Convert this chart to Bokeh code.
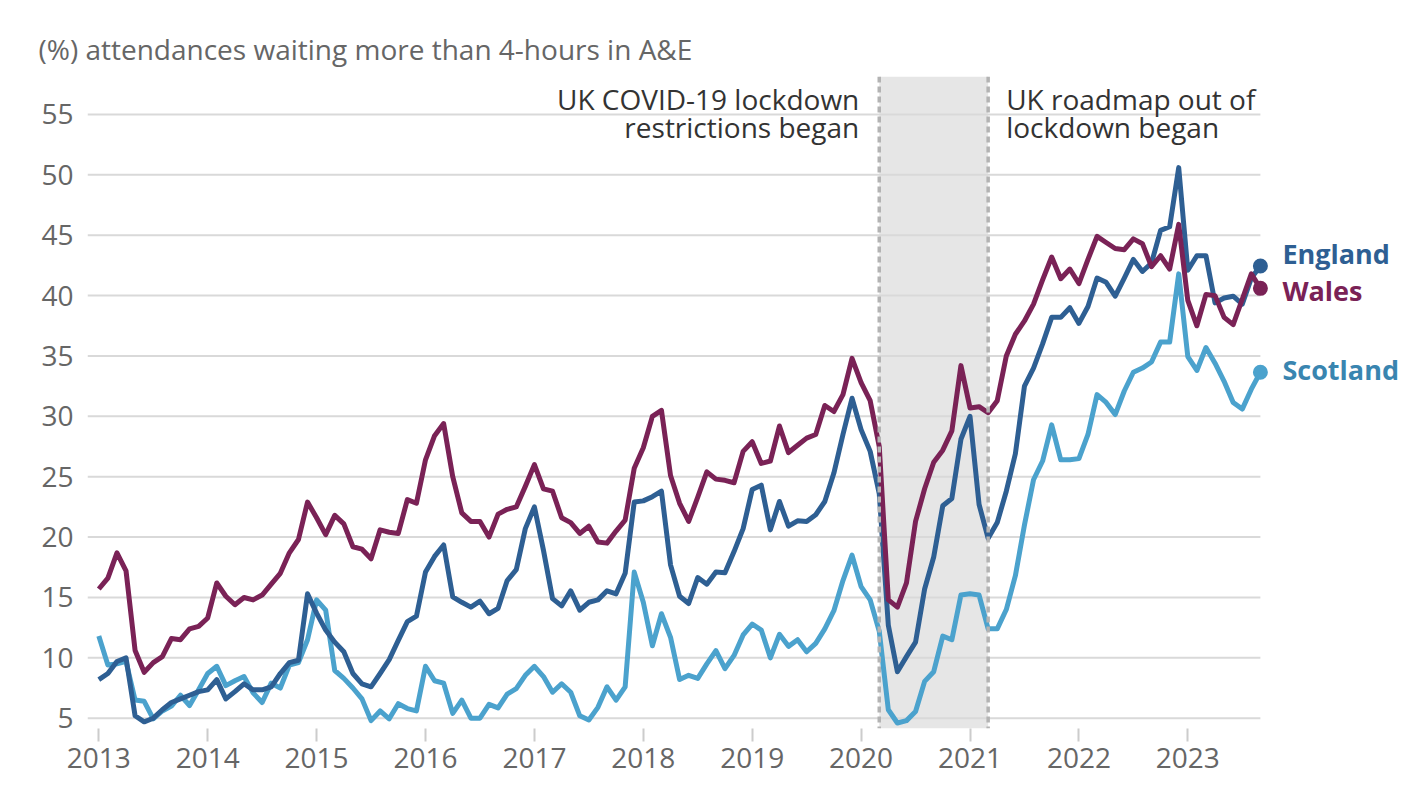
import pandas as pd
from bokeh.plotting import figure
from bokeh.models import (FixedTicker, Label, BoxAnnotation, Span, ColumnDataSource, Title)
from bokeh.embed import file_html
from bokeh.resources import INLINE

# ---------------- data (monthly, Jan 2013 - Sep 2023) ----------------
months = pd.period_range("2013-01", "2023-09", freq="M")

england = [8.2, 8.7, 9.7, 10.0, 5.2, 4.7, 5.0, 5.7, 6.3, 6.6, 6.9, 7.2,
           7.35, 8.2, 6.6, 7.2, 7.85, 7.35, 7.35, 7.6, 8.7, 9.6, 9.8, 15.3,
           13.7, 12.3, 11.3, 10.5, 8.7, 7.85, 7.6, 8.7, 9.85, 11.45, 13.0, 13.45,
           17.1, 18.4, 19.35, 15.05, 14.6, 14.2, 14.7, 13.65, 14.1, 16.4, 17.3, 20.7,
           22.5, 18.9, 14.9, 14.3, 15.55, 13.95, 14.6, 14.8, 15.55, 15.3, 17.0, 22.9,
           23.0, 23.35, 23.8, 17.7, 15.1, 14.5, 16.65, 16.1, 17.1, 17.05, 18.8, 20.7,
           23.95, 24.3, 20.6, 22.95, 20.9, 21.35, 21.3, 21.85, 22.95, 25.3, 28.5, 31.5,
           28.9, 27.1, 23.6, 12.7, 8.85, 10.1, 11.3, 15.7, 18.35, 22.6, 23.2, 28.1,
           30.0, 22.7, 19.9, 21.2, 23.8, 26.9, 32.5, 34.0, 36.0, 38.2, 38.2, 39.0,
           37.7, 39.1, 41.45, 41.1, 39.95, 41.45, 43.0, 42.0, 42.7, 45.4, 45.7, 50.6,
           42.1, 43.3, 43.3, 39.4, 39.8, 39.95, 39.3, 41.45, 42.45]

wales = [15.7, 16.6, 18.7, 17.2, 10.6, 8.8, 9.6, 10.1, 11.6, 11.5, 12.4, 12.6,
         13.3, 16.2, 15.1, 14.4, 15.0, 14.8, 15.2, 16.1, 17.0, 18.7, 19.8, 22.9,
         21.6, 20.2, 21.8, 21.1, 19.2, 19.0, 18.2, 20.6, 20.4, 20.3, 23.1, 22.8,
         26.4, 28.4, 29.4, 25.0, 22.0, 21.3, 21.3, 20.0, 21.9, 22.3, 22.5, 24.2,
         26.0, 24.0, 23.8, 21.6, 21.2, 20.3, 20.9, 19.6, 19.5, 20.5, 21.4, 25.7,
         27.4, 30.0, 30.5, 25.1, 22.8, 21.3, 23.3, 25.4, 24.8, 24.7, 24.5, 27.1,
         27.9, 26.1, 26.3, 29.2, 27.0, 27.6, 28.2, 28.5, 30.9, 30.4, 31.8, 34.8,
         32.8, 31.3, 27.5, 14.8, 14.2, 16.2, 21.3, 24.0, 26.2, 27.2, 28.8, 34.2,
         30.7, 30.8, 30.3, 31.3, 35.0, 36.8, 37.9, 39.3, 41.3, 43.2, 41.4, 42.2,
         41.0, 43.0, 44.9, 44.4, 43.9, 43.8, 44.7, 44.3, 42.4, 43.3, 42.2, 45.9,
         39.6, 37.5, 40.1, 40.0, 38.2, 37.6, 39.7, 41.8, 40.6]

scotland = [11.8, 9.4, 9.5, 9.7, 6.5, 6.4, 4.95, 5.6, 6.0, 6.9, 6.05, 7.35,
            8.7, 9.3, 7.7, 8.1, 8.45, 7.1, 6.3, 7.9, 7.5, 9.4, 9.6, 11.5,
            14.8, 13.95, 8.95, 8.3, 7.5, 6.6, 4.8, 5.6, 4.95, 6.2, 5.8, 5.6,
            9.3, 8.1, 7.9, 5.4, 6.5, 5.0, 5.0, 6.15, 5.85, 7.0, 7.45, 8.55,
            9.3, 8.45, 7.15, 7.85, 7.15, 5.2, 4.85, 5.9, 7.6, 6.5, 7.6, 17.1,
            14.6, 11.0, 13.65, 11.7, 8.2, 8.55, 8.3, 9.5, 10.6, 9.1, 10.2, 11.9,
            12.8, 12.3, 10.0, 11.95, 10.95, 11.5, 10.5, 11.2, 12.4, 13.9, 16.4, 18.5,
            15.9, 14.8, 12.2, 5.7, 4.6, 4.8, 5.55, 8.05, 8.85, 11.8, 11.5, 15.2,
            15.3, 15.2, 12.4, 12.4, 14.0, 16.8, 21.0, 24.75, 26.3, 29.3, 26.4, 26.4,
            26.5, 28.5, 31.8, 31.15, 30.15, 32.1, 33.65, 34.0, 34.5, 36.15, 36.15, 41.8,
            34.95, 33.8, 35.7, 34.4, 32.9, 31.15, 30.6, 32.25, 33.65]

series_names = ["England", "Wales", "Scotland"]
y_ticks = [5, 10, 15, 20, 25, 30, 35, 40, 45, 50, 55]
x_ticks = [2013, 2014, 2015, 2016, 2017, 2018, 2019, 2020, 2021, 2022, 2023]
lockdown_start = 2020 + 2 / 12   # March 2020
roadmap_start = 2021 + 2 / 12    # March 2021

title_text = "(%) attendances waiting more than 4-hours in A&E"
note_left = ["UK COVID-19 lockdown", "restrictions began"]
note_right = ["UK roadmap out of", "lockdown began"]

# ---------------- styling ----------------
FONT = "Open Sans"
line_colors = {"England": "#2e5f93", "Wales": "#7a2256", "Scotland": "#4ba2cd"}
text_colors = {"England": "#2e5f93", "Wales": "#7a2256", "Scotland": "#3985b0"}
label_dy = {"England": 13, "Wales": -2, "Scotland": 3}

x = [p.year + (p.month - 1) / 12 for p in months]
values = {"England": england, "Wales": wales, "Scotland": scotland}

X_START, X_END = 2012.8962, 2025.0817
Y_START, Y_END = 4.147, 58.147

p = figure(width=1414, height=786, x_range=(X_START, X_END), y_range=(Y_START, Y_END),
           output_backend="svg", toolbar_location=None,
           min_border_left=87, min_border_right=0, min_border_top=76, min_border_bottom=58)
p.title = Title(text=title_text, align="left", offset=-49, standoff=18,
                text_font=FONT, text_font_size="28px", text_font_style="normal",
                text_color="#666666")
p.outline_line_color = None
p.background_fill_color = "white"
p.border_fill_color = "white"
p.xgrid.visible = False
p.ygrid.visible = False

# shaded lockdown period
p.add_layout(BoxAnnotation(left=lockdown_start, right=roadmap_start,
                           fill_color="#e6e6e6", fill_alpha=1.0, line_color=None,
                           level="underlay"))

# gridlines ending at last data point
p.segment(x0=[X_START] * len(y_ticks), x1=[x[-1]] * len(y_ticks), y0=y_ticks, y1=y_ticks,
          line_color="#d9d9d9", line_width=2)

# dashed markers
for xv in (lockdown_start, roadmap_start):
    p.add_layout(Span(location=xv, dimension="height", line_color="#b3b3b3",
                      line_width=3.5, line_dash="6 4"))

# series
for name in ["Scotland", "England", "Wales"]:
    src = ColumnDataSource(dict(x=x, y=values[name]))
    p.line("x", "y", source=src, line_color=line_colors[name], line_width=5,
           line_join="round")
for name in ["Scotland", "England", "Wales"]:
    p.scatter([x[-1]], [values[name][-1]], size=15, fill_color=line_colors[name],
              line_color=None)
    p.add_layout(Label(x=x[-1], y=values[name][-1], text=name, x_offset=22,
                       y_offset=label_dy[name], text_baseline="middle",
                       text_font=FONT, text_font_style="bold",
                       text_font_size="27px", text_color=text_colors[name]))

# annotations
for k, t in enumerate(note_left):
    p.add_layout(Label(x=lockdown_start, y=Y_END, text=t, x_offset=-20,
                       y_offset=-22 - 28 * k, text_align="right",
                       text_baseline="alphabetic", text_font=FONT,
                       text_font_size="28px", text_color="#333333"))
for k, t in enumerate(note_right):
    p.add_layout(Label(x=roadmap_start, y=Y_END, text=t, x_offset=18,
                       y_offset=-22 - 28 * k, text_align="left",
                       text_baseline="alphabetic", text_font=FONT,
                       text_font_size="28px", text_color="#333333"))

# axes
p.yaxis.ticker = FixedTicker(ticks=y_ticks)
p.yaxis.axis_line_color = None
p.yaxis.major_tick_line_color = None
p.yaxis.minor_tick_line_color = None
p.yaxis.major_label_standoff = 8
p.yaxis.major_label_text_font = FONT
p.yaxis.major_label_text_font_size = "28px"
p.yaxis.major_label_text_color = "#666666"

p.xaxis.ticker = FixedTicker(ticks=x_ticks)
p.xaxis.axis_line_color = None
p.xaxis.minor_tick_line_color = None
p.xaxis.major_tick_line_color = "#cccccc"
p.xaxis.major_tick_line_width = 2
p.xaxis.major_tick_in = 0
p.xaxis.major_tick_out = 13
p.xaxis.major_label_standoff = 6
p.xaxis.major_label_text_font = FONT
p.xaxis.major_label_text_font_size = "28px"
p.xaxis.major_label_text_color = "#666666"

open("out.html", "w").write(file_html(p, INLINE))
